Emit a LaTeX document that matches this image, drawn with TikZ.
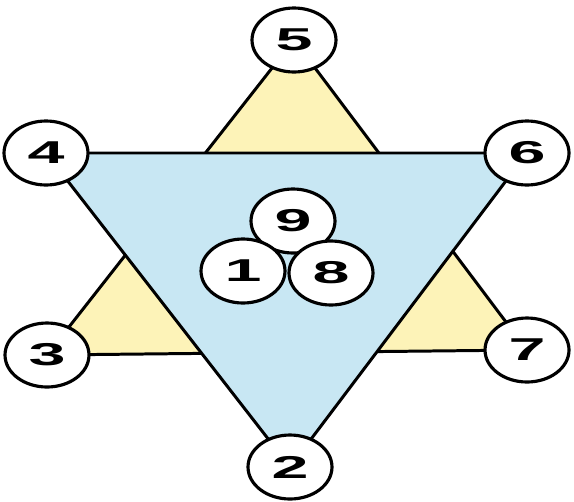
\documentclass[tikz,border=0pt]{standalone}
\usepackage{fontspec}
\setmainfont{Liberation Sans}
\usetikzlibrary{shapes.geometric,backgrounds}
\definecolor{skyfill}{RGB}{200,231,243}
\definecolor{sandfill}{RGB}{253,243,184}
\tikzset{
	ball/.style={ellipse,draw,line width=1.8pt,fill=white,minimum width=1.68cm,minimum height=1.28cm,inner sep=0pt,font=\fontsize{18}{18}\selectfont\bfseries},
	tri/.style={line width=1.7pt,line join=miter}
}
\newcommand{\widedigit}[1]{\scalebox{2.1}[1]{#1}}

\begin{document}
\begin{tikzpicture}[x=0.02cm,y=-0.02cm]
			\useasboundingbox (0,0) rectangle (574,501);
			% outer ring
			\node[ball] (n5) at (294,40) {\widedigit{5}};
			\node[ball] (n4) at (46,153) {\widedigit{4}};
			\node[ball] (n6) at (527,153) {\widedigit{6}};
			\node[ball] (n3) at (47,355) {\widedigit{3}};
			\node[ball] (n7) at (527,350) {\widedigit{7}};
			\node[ball] (n2) at (290,467) {\widedigit{2}};
			% centre
			\node[ball] (n9) at (293,221) {\widedigit{9}};
			\node[ball] (n1) at (243,271) {\widedigit{1}};
			\node[ball] (n8) at (331,273) {\widedigit{8}};
			\begin{pgfonlayer}{background}
				% upright triangle
				\filldraw[tri,fill=sandfill] (n5.center) -- (n3.center) -- (n7.center) -- cycle;
				% inverted triangle
				\filldraw[tri,fill=skyfill] (n4.center) -- (n6.center) -- (n2.center) -- cycle;
			\end{pgfonlayer}
		\end{tikzpicture}
\end{document}
